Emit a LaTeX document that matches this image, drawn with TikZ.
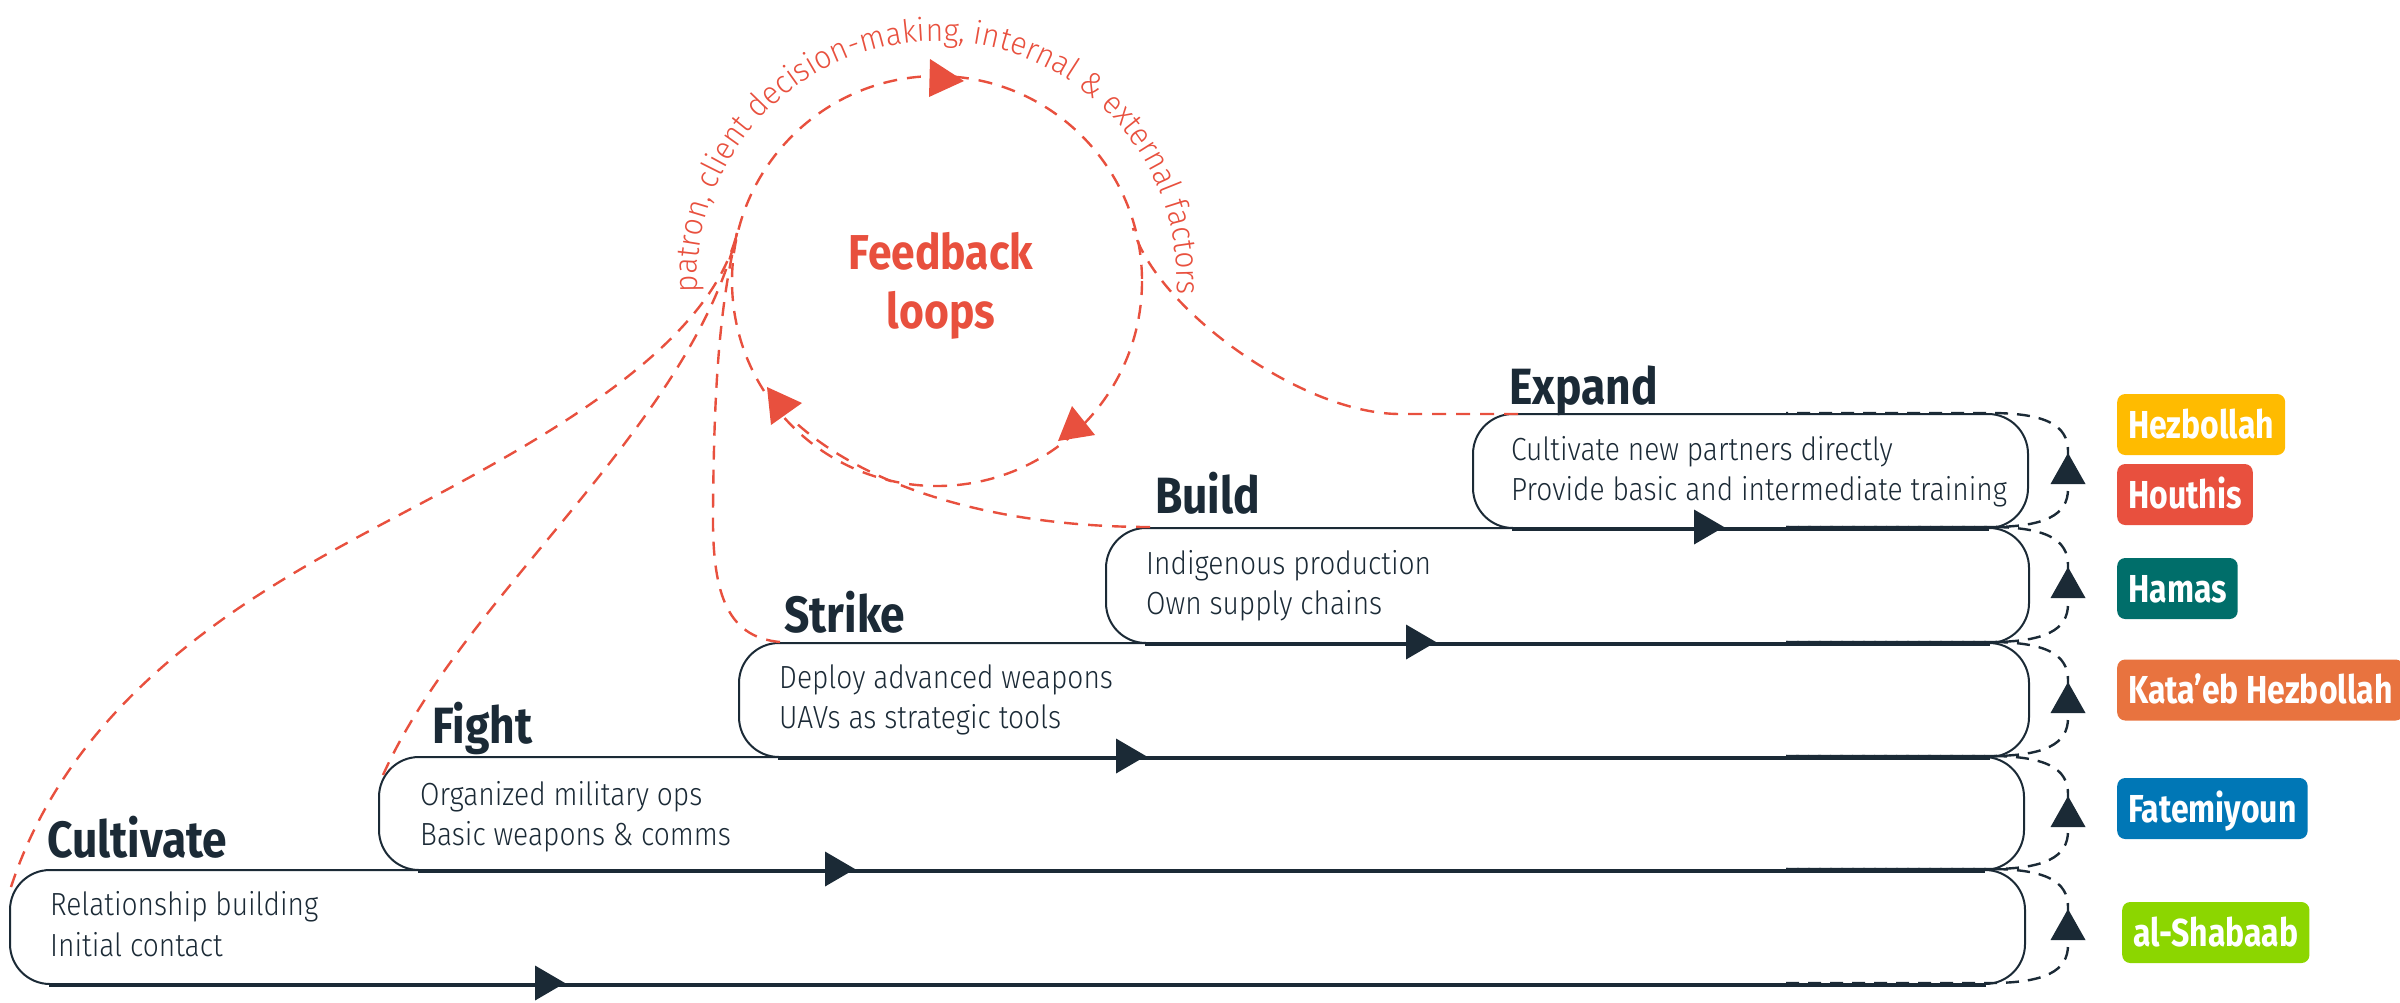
\documentclass[tikz,border=0pt]{standalone}
\usepackage{fontspec}
\setmainfont{Fira Sans}
\newfontfamily\bodyfam{Fira Sans Light}[FakeStretch=0.88]
\newfontfamily\arcfam{Fira Sans Light}[FakeStretch=0.94]
\newfontfamily\titlefam{Fira Sans}[FakeStretch=0.87]
\newfontfamily\labfam{Fira Sans}[FakeStretch=0.82]
\usetikzlibrary{calc,decorations.text}
\definecolor{navy}{HTML}{1B2A36}
\definecolor{fbred}{HTML}{E8503E}
\definecolor{hezc}{HTML}{FFBB00}
\definecolor{houc}{HTML}{E8503E}
\definecolor{hamc}{HTML}{006E6A}
\definecolor{katc}{HTML}{E8733F}
\definecolor{fatc}{HTML}{0077B6}
\definecolor{shac}{HTML}{8CD600}
\tikzset{
  stagebox/.style={rectangle, draw=navy, line width=2pt, rounded corners=40pt, inner sep=0pt, anchor=north west},
  flowline/.style={draw=navy, line width=3pt},
  loopdash/.style={draw=navy, line width=2.4pt, dash pattern=on 13pt off 9pt},
  fbdash/.style={draw=fbred, line width=2.4pt, dash pattern=on 14pt off 10pt},
  stagetitle/.style={font=\titlefam\bfseries\fontsize{51}{57}\selectfont, text=navy, anchor=base west, inner sep=0pt},
  stagetext/.style={font=\bodyfam\fontsize{32}{38}\selectfont, text=navy, anchor=base west, inner sep=0pt},
  grouplabel/.style={font=\labfam\bfseries\fontsize{39}{45}\selectfont, text=white, rounded corners=8pt, minimum height=61pt, inner xsep=11pt, inner ysep=0pt, text height=27pt, text depth=0pt, anchor=west},
}
\begin{document}
\begin{tikzpicture}[x=1pt,y=-1pt]
\useasboundingbox (0,0) rectangle (2400,1002);

% ---------- stage boxes ----------
\node[stagebox, minimum width=2015pt, minimum height=114pt] (cult)   at (9,869) {};
\node[stagebox, minimum width=1645pt, minimum height=113pt] (fight)  at (378,756) {};
\node[stagebox, minimum width=1290pt, minimum height=114pt] (strike) at (738,642) {};
\node[stagebox, minimum width=923pt,  minimum height=115pt] (build)  at (1105,527) {};
\node[stagebox, minimum width=555pt,  minimum height=114pt] (expand) at (1472,413) {};

% flow lines (bottom edges)
\foreach \bx in {cult,fight,strike,build,expand}{
  \draw[flowline] ($(\bx.south west)+(40,0)$) -- ($(\bx.south east)+(-40,0)$);
}
% flow arrowheads
\foreach \tx/\ty in {565/983, 855/869, 1146/756, 1436/642, 1724/527}{
  \fill[navy] (\tx,\ty) -- (\tx-30,\ty-17.5) -- (\tx-30,\ty+17.5) -- cycle;
}

% titles
\node[stagetitle] (tcult)   at (47,857)   {Cultivate};
\node[stagetitle] (tfight)  at (432,743)  {Fight};
\node[stagetitle] (tstrike) at (784,632)  {Strike};
\node[stagetitle] (tbuild)  at (1155,513) {Build};
\node[stagetitle] (texpand) at (1509,404) {Expand};

% body text
\node[stagetext] (cult1)   at (50,915)   {Relationship building};
\node[stagetext] (cult2)   at (50,956)   {Initial contact};
\node[stagetext] (fight1)  at (420,805)  {Organized military ops};
\node[stagetext] (fight2)  at (420,845)  {Basic weapons \& comms};
\node[stagetext] (strike1) at (779,688)  {Deploy advanced weapons};
\node[stagetext] (strike2) at (779,728)  {UAVs as strategic tools};
\node[stagetext] (build1)  at (1146,574) {Indigenous production};
\node[stagetext] (build2)  at (1146,614) {Own supply chains};
\node[stagetext] (expand1) at (1511,460) {Cultivate new partners directly};
\node[stagetext] (expand2) at (1511,500) {Provide basic and intermediate training};

% ---------- right-hand dashed loops ----------
\foreach \yt/\yb in {413/527, 527/642, 642/756, 756/869, 869/983}{
  \draw[loopdash] (1786,\yb) -- (1990,\yb) .. controls (2045,\yb) and (2068,\yb-12) .. (2068,\yb-38)
     -- (2068,\yt+38) .. controls (2068,\yt+12) and (2045,\yt) .. (1990,\yt) -- (1786,\yt);
  \fill[navy] (2068,\yt+40) -- (2050.5,\yt+71) -- (2085.5,\yt+71) -- cycle;
}

% ---------- group labels ----------
\node[grouplabel, fill=hezc] (hez) at (2117,424.5) {Hezbollah};
\node[grouplabel, fill=houc] (hou) at (2117,494.5) {Houthis};
\node[grouplabel, fill=hamc] (ham) at (2117,588.5) {Hamas};
\node[grouplabel, fill=katc] (kat) at (2117,690)   {Kata’eb Hezbollah};
\node[grouplabel, fill=fatc] (fat) at (2117,808.5) {Fatemiyoun};
\node[grouplabel, fill=shac] (sha) at (2122,932.5) {al-Shabaab};

% ---------- feedback loop ----------
\coordinate (fbc) at (937,281);
\coordinate (jn) at (737,233);
\draw[fbdash] (fbc) circle[radius=205];
\fill[fbred] (930,59) -- (964,81) -- (929,97) -- cycle;
\fill[fbred] (1072,406) -- (1095,435) -- (1058,441) -- cycle;
\fill[fbred] (767,387) -- (802,403) -- (771,425) -- cycle;

\node[font=\titlefam\bfseries\fontsize{49}{59}\selectfont, text=fbred, align=center, inner sep=0pt] (fbtitle) at (941,286) {Feedback\\loops};

\path[decorate, decoration={text along path, text align=center,
  text={|\arcfam\fontsize{32}{38}\selectfont\color{fbred}|patron, client decision-making, internal {\&} external factors}}]
  (697.1,286.9) arc[start angle=178.6, end angle=362, radius=240];

% feedback connectors from stages
\draw[fbdash] ($(cult.north west)+(2,18)$) .. controls (70,706) and (233,605) .. (347,543)
   .. controls (478,471) and (704,369) .. (jn);
\draw[fbdash] ($(fight.north west)+(5,19)$) .. controls (465,593) and (690,427) .. (jn);
\draw[fbdash] ($(strike.north west)+(42,0)$) .. controls (725,637) and (712,590) .. (713,510)
   .. controls (714,400) and (718,311) .. (jn);
\draw[fbdash] ($(build.north west)+(45,0)$) .. controls (1000,527) and (870,490) .. (795,422);
\draw[fbdash] ($(expand.north west)+(46,1)$) -- (1400,414) .. controls (1300,414) and (1154,306) .. (1133,228);
\end{tikzpicture}
\end{document}
